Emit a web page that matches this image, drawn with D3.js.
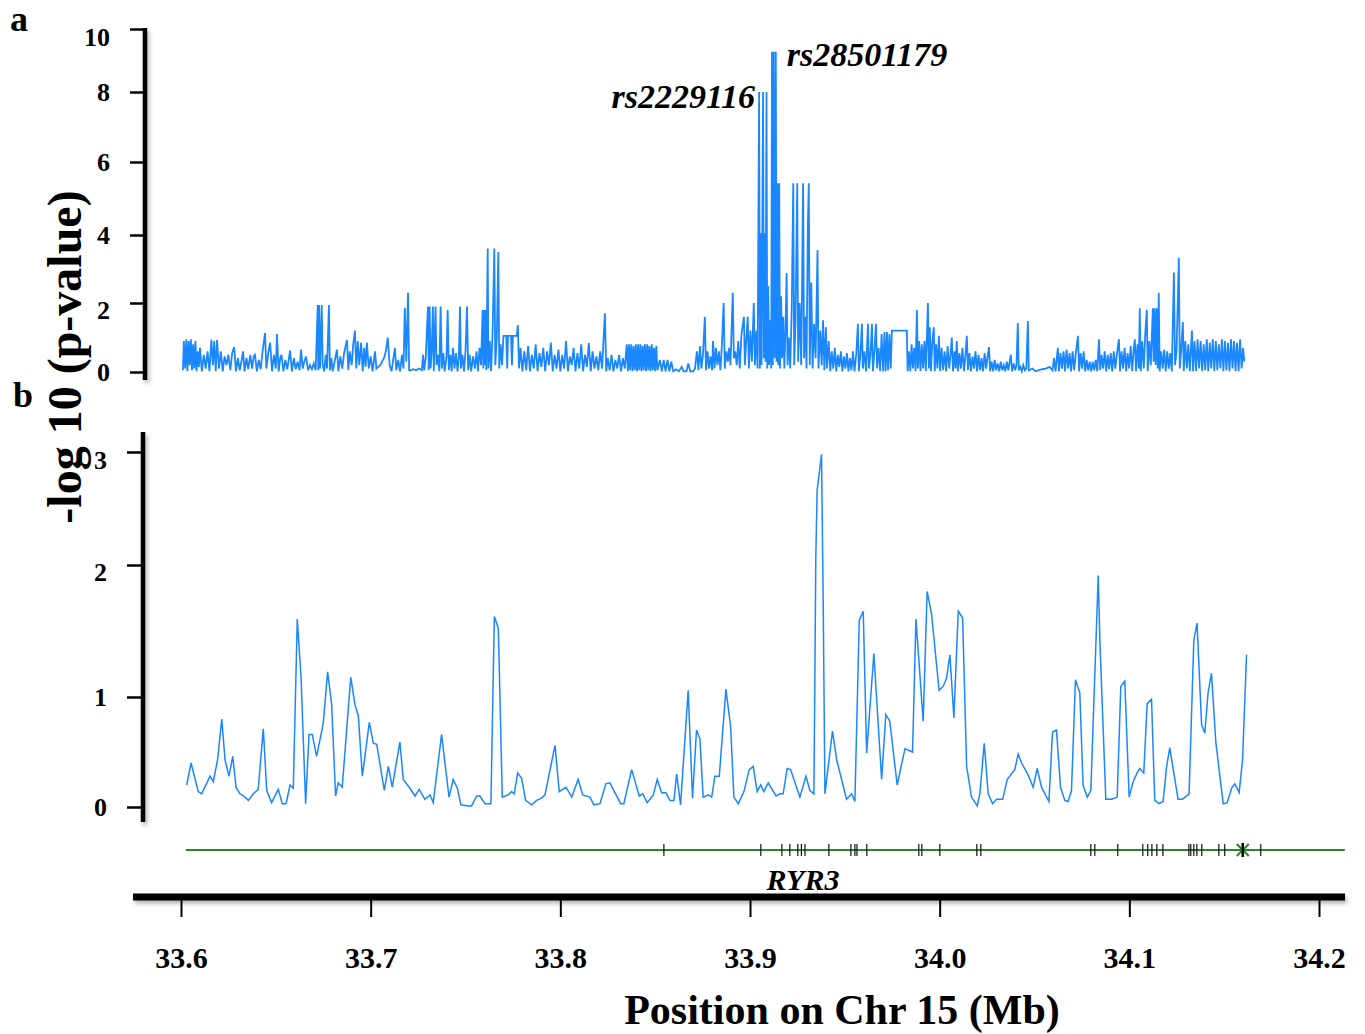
<!DOCTYPE html>
<html>
<head>
<meta charset="utf-8">
<script src="https://cdn.jsdelivr.net/npm/d3@7"></script>
<style>
  body { margin: 0; background: #fff; }
  text { font-family: "Liberation Serif", "Times New Roman", serif; font-weight: bold; fill: #000; }
</style>
</head>
<body>
<svg id="chart" width="1365" height="1034"></svg>
<script>
// positions are kb from the start of the window (33.6 Mb)
var START_MB = 33.6;
var xTicks = [33.6, 33.7, 33.8, 33.9, 34.0, 34.1, 34.2];
var topTicks = [0, 2, 4, 6, 8, 10];
var bottomTicks = [0, 1, 2, 3];

// panel a: single SNP -log10(p), [kb, value]
var topSnps = [
  [1,0.05],[1.5,0.9],[2.2,0.1],[2.8,0.95],[3.4,0.02],[4,0.9],[4.6,0.2],[5.2,0.95],[5.8,0.05],[6.4,0.8],[7,0.1],[7.6,0.9],[8.2,0.02],[8.8,0.6],[9.4,0.15],[10,0.7],
  [11,0.02],[12,0.5],[13,0.1],[14,0.6],[15,0.02],[16,0.93],[16.8,0.2],[17.5,0.9],[18.3,0.02],[19,0.93],[20,0.1],
  [21,0.6],[22,0.02],[23,0.45],[24,0.2],[25,0.5],[26,0.05],[27,0.55],[28,0.72],[29,0.02],[30,0.4],
  [31,0.05],[32,0.35],[32.7,0.6],[33.5,0.02],[34.5,0.4],[35.5,0.08],[36.5,0.5],[37.5,0.1],[38.3,0.45],[39,0.5],[40,0.02],
  [41,0.35],[42,0.08],[43,0.6],[44.3,1.13],[45,0.1],[46,0.55],[47,0.85],[48,0.02],[49,0.5],[50,0.1],
  [50.6,1.1],[51.5,0.02],[52.3,0.4],[53,0.5],[54,0.02],[55,0.35],[56,0.08],[57.5,0.62],[58.5,0.02],[59.5,0.4],
  [60.5,0.08],[61.5,0.3],[62.5,0.05],[63.3,0.65],[64.2,0.1],[65,0.3],[65.9,0.45],[67,0.05],[68,0.2],[69,0.08],[70,0.25],
  [71,0.05],[72.1,1.94],[72.4,0.05],[72.8,1.94],[73.3,0.1],[74.2,1.94],[74.7,0.2],[75.5,0.02],[76.3,0.5],[77,0.1],[78,1.94],[78.5,0.05],[79.3,0.4],[80,0.02],
  [81,0.3],[82.2,0.65],[83,0.02],[84,0.45],[85,0.1],[86,0.55],[87.5,0.93],[88.2,0.05],[89,0.6],[90,0.2],
  [90.8,0.8],[91.7,1.2],[92.4,0.1],[93.2,0.9],[94,0.2],[95,0.85],[95.8,0.02],[96.6,0.7],[97.3,0.15],[98,0.85],[99,0.1],[100,0.45],
  [101,0.02],[102.3,0.6],[103,0.1],[104,0.15],[105,0.2],[106,0.3],[107,0.4],[108,0.6],[109,1.0],[110,0.2],
  [111,0.02],[112,0.4],[112.8,0.7],[113.5,0.05],[114.5,0.35],[115.5,0.02],[116.5,0.5],[117.3,0.1],[118,1.86],[118.8,0.3],[119.7,2.3],[120.3,0.05],
  [121,0.05],[122.5,0.08],[124,0.05],[125.5,0.1],[127,0.05],[127.6,0.5],[128.2,0.05],[129,0.4],
  [130.2,1.9],[130.6,0.05],[131.1,1.9],[131.6,0.1],[132.2,0.6],[132.8,1.9],[133.3,0.02],[134.2,1.9],[134.7,0.2],[135.5,0.5],[136.2,0.02],[136.9,1.9],[137.5,0.1],[138.3,0.55],[139,0.02],[140,0.45],
  [140.6,1.8],[141.2,0.05],[142,0.5],[142.7,0.02],[143.4,0.7],[144.2,0.1],[145,0.55],[145.8,0.02],[146.5,0.4],[147.1,1.9],[147.6,0.1],[148.4,0.5],[149.2,0.02],[150,0.6],
  [150.8,1.9],[151.4,0.05],[152.2,0.5],[153,0.02],[154,0.45],[155,0.1],[155.8,0.6],[156.6,0.02],[157.4,0.7],[158.2,0.2],[159,1.8],[159.4,0.1],[159.8,1.8],[160.2,0.2],[160.6,1.8],[161,0.05],
  [161.7,3.6],[162.1,0.1],[162.8,0.9],[163.5,0.02],[164.3,1.2],[165.2,3.6],[165.7,0.2],[166.5,1.0],[167.3,3.5],[167.8,0.1],[168.5,0.8],[169.3,0.2],[170,1.05],
  [171.5,1.05],[172,0.1],[172.4,1.05],[174,1.05],[174.5,0.2],[175,1.05],[177,1.05],[177.6,1.36],[178.2,0.1],[179,0.7],[180,0.02],
  [181,0.6],[182,0.05],[183,0.75],[184,0.02],[185,0.5],[186,0.1],[187,0.8],[188,0.02],[189,0.55],[190,0.15],
  [191,0.7],[192,0.02],[193,0.6],[194,0.2],[195,0.85],[196,0.02],[197,0.5],[198,0.1],[199,0.65],[200,0.02],
  [201,0.5],[202,0.1],[203,0.9],[204,0.02],[205,0.45],[206,0.2],[207,0.7],[208,0.02],[209,0.55],[210,0.1],
  [211,0.8],[212,0.02],[213,0.5],[214,0.15],[215,0.84],[216,0.02],[217,0.6],[218,0.1],[219,0.45],[220,0.05],
  [221,0.6],[222,0.1],[223.5,1.7],[224.2,0.02],[225,0.4],[226,0.05],[227,0.5],[228,0.02],[229,0.35],[230,0.1],
  [231,0.5],[232,0.02],[233,0.4],[234,0.1],[235,0.8],[235.6,0.02],[236.2,0.8],[236.8,0.05],[237.4,0.8],[238,0.02],[238.6,0.75],[239.2,0.05],[239.8,0.8],
  [240.4,0.02],[241,0.8],[241.6,0.05],[242.2,0.8],[242.8,0.02],[243.4,0.75],[244,0.05],[244.6,0.8],[245.2,0.02],[245.8,0.8],[246.4,0.05],[247,0.75],[247.6,0.02],[248.2,0.8],[248.8,0.05],[249.4,0.7],[250,0.02],[250.6,0.75],[251.2,0.05],
  [252.5,0.35],[253.5,0.02],[254.5,0.35],[255.5,0.02],[256.5,0.35],[257.5,0.02],[258.5,0.3],[259.5,0.02],[261,0.08],[262.5,0.02],
  [264,0.15],[265,0.02],[266.5,0.02],[267.5,0.25],[268.5,0.02],[270,0.02],[271,0.1],
  [272,0.6],[272.8,0.05],[273.6,0.75],[274.4,0.1],[275.2,0.5],[276.2,1.6],[276.8,0.05],[277.6,0.6],[278.4,0.1],[279.2,0.45],[280,0.05],
  [280.5,0.9],[281.3,0.1],[282,0.7],[282.8,0.2],[283.6,0.6],[284.4,0.05],[285.2,0.8],[286.1,2.0],[286.7,0.1],[287.5,0.6],[288.3,0.3],[289,0.7],[289.7,0.2],[290.9,2.3],[291.5,0.4],[292.2,0.6],[293,0.2],[293.8,0.9],[294.6,0.1],[295.5,1.1],[296.8,1.6],[297.3,0.2],[298,0.9],[298.8,1.6],[299.4,0.1],[300.2,1.2],[301,0.3],[302,2.0],[302.6,0.2],[303.4,1.2],[304,0.1],
  [304.8,8.0],[305.2,0.1],[305.6,4.05],[306.1,0.2],[306.9,8.0],[307.3,0.4],[307.8,4.05],[308.2,0.3],[308.7,8.0],[309.1,0.1],[309.6,2.5],[310.1,0.2],[310.6,1.5],[311.2,0.1],
  [311.6,9.28],[312,0.2],[312.5,9.28],[313,0.4],[313.6,9.28],[314,0.3],
  [314.5,5.42],[314.9,0.2],[315.4,5.42],[315.8,0.1],[316.4,2.2],[316.9,0.4],[317.5,1.6],[318.1,0.1],[318.7,1.2],[319.3,2.88],[319.8,0.2],[320.5,1.0],[321.2,0.1],[322,1.8],[322.8,5.42],[323.3,0.2],[324,1.5],[324.9,5.42],[325.4,0.3],[326.2,2.0],[327,0.2],[328,5.42],[328.5,0.4],[329.2,1.6],[329.8,0.1],[330.5,4.26],[331,5.42],[331.5,0.2],[332.3,2.6],[333,0.1],[333.8,1.4],[334.6,0.4],[335.6,3.56],[336.1,0.1],[337,1.2],[337.8,0.2],[338.5,1.5],[339.2,0.05],[340,1.3],[340.6,0.1],
  [341.5,0.9],[342.3,0.02],[343.1,0.6],[343.9,0.1],[344.7,0.7],[345.5,0.02],[346.3,0.5],[347.1,0.15],[347.9,0.6],[348.7,0.02],[349.5,0.45],[350.3,0.1],[351.1,0.55],[351.9,0.02],[352.7,0.4],[353.5,0.05],[354.3,0.6],[355.1,0.02],[356,0.5],
  [356.9,1.4],[357.4,0.02],[358.2,0.5],[359,1.4],[359.5,0.1],[360.3,0.6],[361.2,0.02],[362.2,1.4],[362.7,0.1],[363.5,0.5],[364.3,1.4],[364.8,0.02],[365.6,0.6],[366.4,1.4],[367,0.1],[367.8,0.7],[368.6,0.02],[369.4,1.1],
  [370.2,0.02],[370.9,1.16],[371.5,0.02],[372.2,1.16],[372.8,0.05],[373.5,1.1],[374.2,0.1],[374.8,1.2],[382.7,1.2],[383.1,0.02],
  [383.8,0.6],[384.5,0.02],[385.2,0.8],[385.9,0.1],[386.6,0.7],[387.3,0.02],[388,1.8],[388.5,0.1],[389.2,0.9],[389.9,0.02],[390.6,0.8],[391.3,0.1],[392,0.9],[392.7,0.02],[393.8,2.0],[394.3,0.1],[394.8,1.3],[395.4,0.02],[396.1,0.85],[396.9,1.3],[397.4,0.02],[398.1,0.8],[398.8,0.1],[399.6,1.05],[400.2,0.02],
  [401,0.7],[401.8,0.05],[402.6,0.6],[403.4,0.02],[404.2,0.75],[405,0.1],[405.7,0.5],[406.4,1.0],[407,0.02],[407.8,0.6],[408.4,0.1],[409,0.9],[409.6,0.02],[410.4,0.55],[411.2,0.1],[412,0.7],[412.8,0.02],[413.6,0.5],[414.3,1.05],[414.9,0.05],[415.7,0.55],[416.5,0.02],[417.3,0.45],[418.1,0.1],[418.9,0.6],[419.7,0.02],
  [420.5,0.5],[421.3,0.05],[422.1,0.4],[422.9,0.02],[423.7,0.55],[424.5,0.1],[425.3,0.45],[426,0.72],[426.6,0.02],[427.4,0.3],[428.2,0.02],[429,0.35],[429.8,0.05],[430.6,0.25],[431.4,0.02],[432.2,0.3],[433,0.05],[433.8,0.2],[434.6,0.02],[435.4,0.3],[436.2,0.05],[437.5,0.5],[438.2,0.02],[439,0.25],[439.8,0.05],[440.5,0.2],[441.2,1.42],[441.7,0.05],[442.5,0.15],[443.3,0.02],[444.1,0.2],[444.9,0.05],[445.7,0.1],[446.5,1.48],[447,0.05],
  [449,0.1],[450.5,0.02],[452,0.05],[454,0.08],[456,0.1],[458,0.15],[459.5,0.05],
  [460.3,0.4],[461.1,0.02],[462.3,0.7],[462.9,0.02],[463.7,0.55],[464.5,0.1],[465.3,0.6],[466.1,0.02],[466.9,0.65],[467.7,0.1],[468.5,0.55],[469.3,0.02],[470.1,0.6],[470.9,0.05],[471.7,0.5],[472.9,1.05],[473.5,0.02],[474.3,0.55],[475.1,0.1],[475.9,0.6],[476.7,0.02],[477.5,0.35],[478.3,0.05],[479.1,0.3],[479.9,0.02],[480.7,0.3],[481.5,0.05],[482.3,0.35],[483.1,0.02],[484,0.95],[484.6,0.05],[485.4,0.5],[486.2,0.1],[487,0.6],[487.8,0.02],[488.6,0.5],[489.4,0.08],[490.2,0.55],[491,0.02],[491.8,0.6],[492.6,0.1],[493.4,0.5],[494.5,0.95],[495.1,0.02],[495.9,0.6],[496.7,0.1],[497.5,0.7],[498.3,0.02],[499.1,0.55],[499.9,0.1],[500.7,0.75],[501.5,0.02],[502.2,0.6],[502.9,0.95],[503.5,0.02],[504.3,0.8],[505,0.1],[505.5,1.85],[506,0.02],[506.8,0.9],[507.6,0.1],[508.4,1.1],[509.2,1.8],[509.7,0.02],[510.5,0.9],[511.3,0.2],[512.4,1.85],[512.8,0.3],[513.4,1.85],[513.9,0.2],[514.5,1.85],[515,0.1],[515.5,2.3],[516,0.02],[516.8,0.6],[517.6,0.1],[518.4,0.65],[519.2,0.02],[520,0.6],[520.8,0.1],[521.6,0.55],[522.4,0.02],[523.5,2.9],[524.1,0.2],[524.9,0.6],[526.1,3.33],[526.6,0.1],[527.4,0.7],[528.2,1.45],[528.7,0.02],[529.5,0.9],[530.3,0.1],[531.1,0.8],[531.9,0.02],[533,1.2],[533.6,0.02],[534.4,0.9],[535.2,0.02],[536,0.95],[536.8,0.1],[537.6,0.9],[538.4,0.02],[539.2,0.8],[540,0.05],[540.8,0.95],[541.6,0.02],[542.4,0.85],[543.2,0.1],[544,0.95],[544.8,0.02],[545.6,0.9],[546.4,0.05],[547.2,0.8],[548,0.1],[548.8,0.95],[549.6,0.02],[550.4,0.9],[551.2,0.05],[552,0.85],[552.8,0.02],[553.6,0.95],[554.4,0.1],[555.2,0.9],[556,0.02],[556.8,0.85],[557.6,0.02],[558.4,0.95],[559.2,0.1],[560,0.7],[560.6,0.3]
];

// panel b: windowed -log10(p), [kb, value]
var bottomWindows = [
  [3.0,0.20],[5.3,0.40],[9.1,0.14],[10.9,0.12],[15.3,0.28],[17.0,0.23],[19.3,0.43],[21.5,0.80],[23.2,0.43],[25.3,0.28],[27.3,0.46],[29.0,0.18],[31.1,0.12],[33.7,0.09],[35.5,0.06],[38.1,0.12],[40.7,0.16],[43.4,0.71],[45.2,0.15],[47.8,0.04],[51.3,0.16],[53.4,0.03],[55.4,0.03],[57.5,0.20],[59.2,0.17],[61.3,1.59],[63.3,1.15],[65.7,0.03],[67.5,0.66],[69.2,0.66],[71.5,0.46],[75.0,0.76],[77.3,1.19],[79.4,0.94],[81.5,0.10],[82.9,0.22],[85.0,0.18],[89.5,1.15],[91.7,0.93],[93.5,0.83],[95.6,0.28],[99.3,0.77],
  [101.4,0.58],[103.2,0.57],[107.2,0.15],[109.3,0.37],[111.4,0.18],[115.4,0.59],[117.2,0.25],[120.7,0.17],[123.4,0.10],[125.6,0.16],[128.6,0.07],[131.3,0.11],[133.0,0.04],[137.4,0.66],[141.3,0.09],[143.5,0.25],[145.7,0.17],[147.6,0.02],[151.4,0.01],[153.2,0.01],[155.9,0.10],[157.6,0.10],[160.3,0.03],[163.4,0.03],[165.2,1.61],[167.3,1.52],[169.4,0.09],[172.5,0.11],[174.3,0.14],[175.7,0.12],[177.5,0.31],[179.6,0.26],[181.7,0.06],[184.9,0.02],[187.5,0.06],[190.1,0.08],[191.9,0.11],[197.2,0.56],[199.4,0.14],
  [203.0,0.18],[206.0,0.09],[209.4,0.25],[211.8,0.11],[215.6,0.09],[217.7,0.02],[220.9,0.03],[224.0,0.21],[226.1,0.22],[231.8,0.03],[233.5,0.03],[237.6,0.34],[241.6,0.10],[243.4,0.12],[245.8,0.04],[249.0,0.11],[251.1,0.25],[253.4,0.13],[255.7,0.13],[257.8,0.06],[259.9,0.06],[261.3,0.30],[263.4,0.02],[267.4,1.05],[269.7,0.08],[271.8,0.70],[273.6,0.62],[275.3,0.09],[278.0,0.11],[279.8,0.09],[281.5,0.28],[283.8,0.28],[287.3,1.06],[289.8,0.73],[291.5,0.09],[293.8,0.03],[296.8,0.14],[299.6,0.34],
  [301.7,0.37],[303.8,0.14],[305.6,0.20],[307.3,0.14],[309.6,0.22],[313.7,0.10],[315.8,0.12],[317.5,0.12],[319.6,0.35],[321.4,0.34],[326.3,0.09],[329.5,0.28],[331.6,0.15],[333.7,0.12],[334.7,2.07],[335.4,2.66],[337.7,2.98],[338.6,1.71],[339.5,0.12],[343.5,0.69],[345.7,0.43],[350.9,0.07],[353.6,0.12],[355.3,0.05],[357.6,1.58],[359.7,1.65],[361.5,0.49],[365.3,1.33],[369.4,0.25],[371.6,0.84],[373.7,0.78],[377.6,0.20],[381.7,0.53],[385.7,0.50],[387.5,1.59],[391.3,0.78],[393.4,1.80],[395.7,1.63],[399.7,1.05],
  [401.8,1.08],[403.6,1.14],[405.4,1.32],[407.5,0.81],[409.8,1.65],[412.1,1.60],[414.2,0.37],[416.8,0.09],[419.8,0.01],[421.2,0.12],[423.5,0.58],[425.6,0.12],[427.9,0.03],[430.0,0.07],[433.2,0.07],[435.6,0.25],[439.6,0.34],[441.4,0.48],[443.2,0.40],[446.7,0.29],[449.3,0.18],[451.4,0.35],[453.7,0.18],[457.6,0.05],[459.5,0.68],[461.6,0.70],[463.7,0.18],[466.0,0.06],[467.7,0.05],[469.5,0.15],[471.6,1.13],[473.9,1.03],[475.6,0.20],[477.8,0.09],[479.7,0.15],[483.6,1.92],[484.5,1.41],[487.6,0.07],[490.6,0.07],[493.6,0.09],[495.5,1.08],[497.6,1.12],[499.9,0.09],
  [502.0,0.23],[504.1,0.31],[505.5,0.35],[507.6,0.31],[509.4,0.94],[511.7,0.98],[513.4,0.06],[515.7,0.03],[517.8,0.05],[519.6,0.36],[521.3,0.54],[525.7,0.07],[528.0,0.07],[531.5,0.12],[534.0,1.43],[535.7,1.56],[538.1,0.75],[539.8,0.67],[541.5,1.03],[543.3,1.18],[545.6,0.59],[549.5,0.03],[551.6,0.04],[553.9,0.17],[555.6,0.21],[557.9,0.13],[559.7,0.43],[561.8,1.32]
];

var geneName = 'RYR3';
var geneSpan = [2.6, 613.6];
var exonsKb = [254.6,305.7,316.8,321.0,325.2,327.1,329.0,341.6,353.2,355.3,356.4,361.6,389.0,390.6,400.1,419.6,421.7,479.7,481.8,493.9,507.1,509.7,511.9,514.5,517.7,531.4,532.4,534.0,535.6,538.2,547.2,550.3,559.8,569.3];
var geneStartMark = 559.8;
var hits = [
  {name: 'rs2229116', kb: 304.8, value: 8.0, side: 'left'},
  {name: 'rs28501179', kb: 313.6, value: 9.28, side: 'right'}
];

var BLUE = '#1a87ff';
var GREEN = '#2a862a';

var svg = d3.select('#chart');
var defs = svg.append('defs');
var shadow = defs.append('filter').attr('id', 'shadow')
    .attr('filterUnits', 'userSpaceOnUse')
    .attr('x', 0).attr('y', 0).attr('width', 1365).attr('height', 1034);
shadow.append('feDropShadow')
    .attr('dx', 2).attr('dy', 3).attr('stdDeviation', 2)
    .attr('flood-color', '#000').attr('flood-opacity', 0.3);

var toMb = function(kb) { return START_MB + kb / 1000; };

var x = d3.scaleLinear().domain([33.6, 34.2]).range([181, 1319]);
// the original axes are not evenly spaced, so follow their tick positions
var yTop = d3.scaleLinear().domain(topTicks).range([372, 303, 235, 162, 92, 29]);
var yBot = d3.scaleLinear().domain(bottomTicks).range([807, 697, 565, 452]);

// labels that sit a bit under their tick in the original
var labelShift = {10: 8, 3: 8, 2: 7};

// ---- panel a ----
var topLine = d3.line()
    .x(function(d) { return x(toMb(d[0])); })
    .y(function(d) { return yTop(d[1]); });

svg.append('path')
    .datum(topSnps)
    .attr('d', topLine)
    .attr('fill', 'none')
    .attr('stroke', BLUE)
    .attr('stroke-width', 1.8);

var aAxis = svg.append('g')
    .attr('transform', 'translate(143,0)')
    .call(d3.axisLeft(yTop).tickValues(topTicks).tickSize(13).tickPadding(20).tickFormat(d3.format('d')));
aAxis.select('.domain').remove();
aAxis.selectAll('.tick line').attr('stroke', '#000').attr('stroke-width', 2.5);
aAxis.selectAll('.tick text').attr('font-size', 26).attr('font-family', null)
    .attr('y', function(d) { return labelShift[d] || 0; });

svg.append('rect')
    .attr('x', 142.75).attr('y', 28).attr('width', 4.5).attr('height', 352)
    .attr('fill', '#000')
    .attr('filter', 'url(#shadow)');

hits.forEach(function(h) {
    svg.append('text')
        .attr('x', x(toMb(h.kb)) + (h.side === 'left' ? -4 : 11))
        .attr('y', yTop(h.value) + (h.side === 'left' ? 16 : 14))
        .attr('text-anchor', h.side === 'left' ? 'end' : 'start')
        .attr('font-size', 34)
        .attr('font-style', 'italic')
        .text(h.name);
});

// ---- panel b ----
var botLine = d3.line()
    .x(function(d) { return x(toMb(d[0])); })
    .y(function(d) { return yBot(d[1]); });

svg.append('path')
    .datum(bottomWindows)
    .attr('d', botLine)
    .attr('fill', 'none')
    .attr('stroke', BLUE)
    .attr('stroke-width', 1.5);

var bAxis = svg.append('g')
    .attr('transform', 'translate(141,0)')
    .call(d3.axisLeft(yBot).tickValues(bottomTicks).tickSize(14).tickPadding(20).tickFormat(d3.format('d')));
bAxis.select('.domain').remove();
bAxis.selectAll('.tick line').attr('stroke', '#000').attr('stroke-width', 2.5);
bAxis.selectAll('.tick text').attr('font-size', 26).attr('font-family', null)
    .attr('y', function(d) { return labelShift[d] || 0; });

svg.append('rect')
    .attr('x', 140.75).attr('y', 432).attr('width', 4.5).attr('height', 390)
    .attr('fill', '#000')
    .attr('filter', 'url(#shadow)');

// ---- gene track ----
var geneY = 850;
svg.append('line')
    .attr('x1', x(toMb(geneSpan[0]))).attr('x2', x(toMb(geneSpan[1])))
    .attr('y1', geneY).attr('y2', geneY)
    .attr('stroke', GREEN).attr('stroke-width', 1.8);

svg.selectAll('.exon')
    .data(exonsKb)
    .enter()
    .append('line')
        .attr('class', 'exon')
        .attr('x1', function(d) { return x(toMb(d)); })
        .attr('x2', function(d) { return x(toMb(d)); })
        .attr('y1', geneY - 6).attr('y2', geneY + 6)
        .attr('stroke', '#111').attr('stroke-width', 1.2);

var gx = x(toMb(geneStartMark));
svg.append('path')
    .attr('d', 'M' + (gx - 6) + ',' + (geneY - 6) + 'L' + gx + ',' + geneY + 'L' + (gx - 6) + ',' + (geneY + 6) +
               'M' + (gx + 6) + ',' + (geneY - 6) + 'L' + gx + ',' + geneY + 'L' + (gx + 6) + ',' + (geneY + 6))
    .attr('fill', 'none').attr('stroke', GREEN).attr('stroke-width', 2);
svg.append('line')
    .attr('x1', gx).attr('x2', gx).attr('y1', geneY - 7).attr('y2', geneY + 7)
    .attr('stroke', '#000').attr('stroke-width', 2.5);

svg.append('text')
    .attr('x', 803).attr('y', 890)
    .attr('text-anchor', 'middle')
    .attr('font-size', 30)
    .attr('font-style', 'italic')
    .text(geneName);

// ---- x axis ----
var xAxis = svg.append('g')
    .attr('transform', 'translate(0,897)')
    .call(d3.axisBottom(x).tickValues(xTicks).tickSize(20).tickPadding(30).tickFormat(d3.format('.1f')));
xAxis.select('.domain').remove();
xAxis.selectAll('.tick line').attr('stroke', '#000').attr('stroke-width', 2);
xAxis.selectAll('.tick text').attr('font-size', 30).attr('font-family', null);

svg.append('rect')
    .attr('x', 133).attr('y', 893.5).attr('width', 1212).attr('height', 7)
    .attr('fill', '#000')
    .attr('filter', 'url(#shadow)');

svg.append('text')
    .attr('x', 842).attr('y', 1024)
    .attr('text-anchor', 'middle')
    .attr('font-size', 42)
    .text('Position on Chr 15 (Mb)');

svg.append('text')
    .attr('transform', 'translate(81,357) rotate(-90)')
    .attr('text-anchor', 'middle')
    .attr('font-size', 48)
    .text('-log 10 (p-value)');

svg.append('text').attr('x', 10).attr('y', 31).attr('font-size', 36).text('a');
svg.append('text').attr('x', 13).attr('y', 407).attr('font-size', 36).text('b');
</script>
</body>
</html>
